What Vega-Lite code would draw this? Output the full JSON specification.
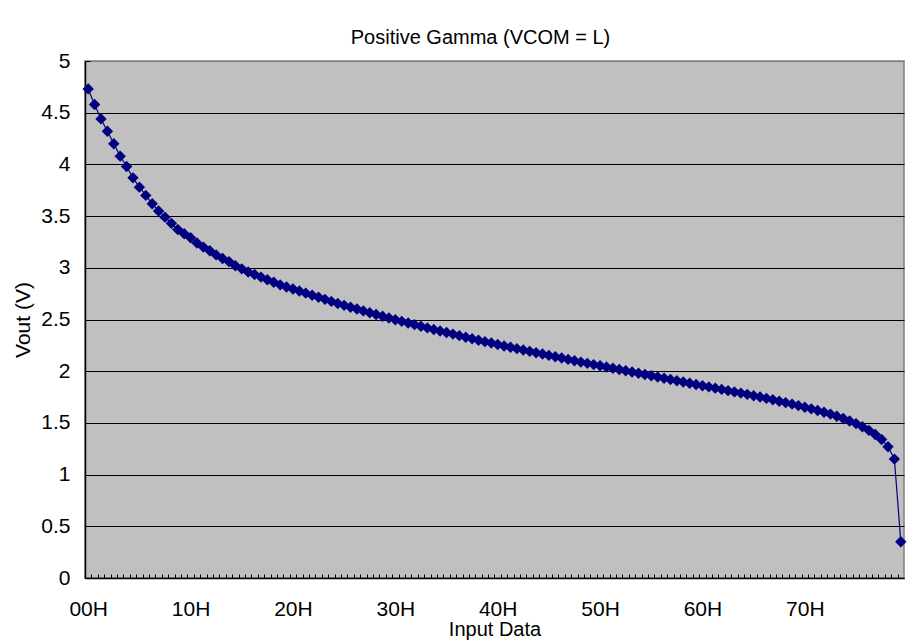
{
  "$schema": "https://vega.github.io/schema/vega-lite/v6.json",
  "width": 819,
  "height": 517,
  "autosize": {"type": "none"},
  "padding": {"left": 85, "top": 61, "right": 10, "bottom": 65},
  "background": "white",
  "title": {
    "text": "Positive Gamma (VCOM = L)",
    "font": "Liberation Sans",
    "fontSize": 20,
    "fontWeight": "normal",
    "color": "black",
    "anchor": "middle",
    "baseline": "alphabetic",
    "offset": -14,
    "dx": -14
  },
  "config": {
    "view": {"fill": "#C0C0C0", "stroke": "#808080", "strokeWidth": 1.5},
    "axis": {"labelFont": "Liberation Sans", "titleFont": "Liberation Sans", "labelColor": "black", "titleColor": "black", "titleFontWeight": "normal"}
  },
  "data": {
    "values": [
      {"code": "00H", "vout": 4.73}, {"code": "01H", "vout": 4.58}, {"code": "02H", "vout": 4.44}, {"code": "03H", "vout": 4.32},
      {"code": "04H", "vout": 4.20}, {"code": "05H", "vout": 4.08}, {"code": "06H", "vout": 3.98}, {"code": "07H", "vout": 3.87},
      {"code": "08H", "vout": 3.78}, {"code": "09H", "vout": 3.70}, {"code": "0AH", "vout": 3.62}, {"code": "0BH", "vout": 3.55},
      {"code": "0CH", "vout": 3.49}, {"code": "0DH", "vout": 3.43}, {"code": "0EH", "vout": 3.37}, {"code": "0FH", "vout": 3.33},
      {"code": "10H", "vout": 3.29}, {"code": "11H", "vout": 3.24}, {"code": "12H", "vout": 3.20}, {"code": "13H", "vout": 3.165},
      {"code": "14H", "vout": 3.125}, {"code": "15H", "vout": 3.09}, {"code": "16H", "vout": 3.06}, {"code": "17H", "vout": 3.02},
      {"code": "18H", "vout": 2.99}, {"code": "19H", "vout": 2.96}, {"code": "1AH", "vout": 2.935}, {"code": "1BH", "vout": 2.91},
      {"code": "1CH", "vout": 2.885}, {"code": "1DH", "vout": 2.86}, {"code": "1EH", "vout": 2.835}, {"code": "1FH", "vout": 2.815},
      {"code": "20H", "vout": 2.795}, {"code": "21H", "vout": 2.775}, {"code": "22H", "vout": 2.755}, {"code": "23H", "vout": 2.735},
      {"code": "24H", "vout": 2.715}, {"code": "25H", "vout": 2.695}, {"code": "26H", "vout": 2.675}, {"code": "27H", "vout": 2.655},
      {"code": "28H", "vout": 2.637}, {"code": "29H", "vout": 2.619}, {"code": "2AH", "vout": 2.601}, {"code": "2BH", "vout": 2.583},
      {"code": "2CH", "vout": 2.566}, {"code": "2DH", "vout": 2.549}, {"code": "2EH", "vout": 2.532}, {"code": "2FH", "vout": 2.515},
      {"code": "30H", "vout": 2.498}, {"code": "31H", "vout": 2.482}, {"code": "32H", "vout": 2.466}, {"code": "33H", "vout": 2.45},
      {"code": "34H", "vout": 2.434}, {"code": "35H", "vout": 2.419}, {"code": "36H", "vout": 2.404}, {"code": "37H", "vout": 2.389},
      {"code": "38H", "vout": 2.374}, {"code": "39H", "vout": 2.359}, {"code": "3AH", "vout": 2.344}, {"code": "3BH", "vout": 2.329},
      {"code": "3CH", "vout": 2.314}, {"code": "3DH", "vout": 2.30}, {"code": "3EH", "vout": 2.286}, {"code": "3FH", "vout": 2.272},
      {"code": "40H", "vout": 2.258}, {"code": "41H", "vout": 2.244}, {"code": "42H", "vout": 2.231}, {"code": "43H", "vout": 2.218},
      {"code": "44H", "vout": 2.205}, {"code": "45H", "vout": 2.192}, {"code": "46H", "vout": 2.179}, {"code": "47H", "vout": 2.166},
      {"code": "48H", "vout": 2.153}, {"code": "49H", "vout": 2.14}, {"code": "4AH", "vout": 2.127}, {"code": "4BH", "vout": 2.114},
      {"code": "4CH", "vout": 2.101}, {"code": "4DH", "vout": 2.088}, {"code": "4EH", "vout": 2.076}, {"code": "4FH", "vout": 2.064},
      {"code": "50H", "vout": 2.052}, {"code": "51H", "vout": 2.04}, {"code": "52H", "vout": 2.028}, {"code": "53H", "vout": 2.016},
      {"code": "54H", "vout": 2.004}, {"code": "55H", "vout": 1.992}, {"code": "56H", "vout": 1.98}, {"code": "57H", "vout": 1.968},
      {"code": "58H", "vout": 1.956}, {"code": "59H", "vout": 1.944}, {"code": "5AH", "vout": 1.932}, {"code": "5BH", "vout": 1.92},
      {"code": "5CH", "vout": 1.908}, {"code": "5DH", "vout": 1.896}, {"code": "5EH", "vout": 1.884}, {"code": "5FH", "vout": 1.872},
      {"code": "60H", "vout": 1.86}, {"code": "61H", "vout": 1.848}, {"code": "62H", "vout": 1.836}, {"code": "63H", "vout": 1.824},
      {"code": "64H", "vout": 1.812}, {"code": "65H", "vout": 1.80}, {"code": "66H", "vout": 1.788}, {"code": "67H", "vout": 1.776},
      {"code": "68H", "vout": 1.763}, {"code": "69H", "vout": 1.75}, {"code": "6AH", "vout": 1.737}, {"code": "6BH", "vout": 1.724},
      {"code": "6CH", "vout": 1.71}, {"code": "6DH", "vout": 1.696}, {"code": "6EH", "vout": 1.682}, {"code": "6FH", "vout": 1.667},
      {"code": "70H", "vout": 1.652}, {"code": "71H", "vout": 1.636}, {"code": "72H", "vout": 1.62}, {"code": "73H", "vout": 1.603},
      {"code": "74H", "vout": 1.585}, {"code": "75H", "vout": 1.565}, {"code": "76H", "vout": 1.543}, {"code": "77H", "vout": 1.519},
      {"code": "78H", "vout": 1.493}, {"code": "79H", "vout": 1.463}, {"code": "7AH", "vout": 1.428}, {"code": "7BH", "vout": 1.388},
      {"code": "7CH", "vout": 1.34}, {"code": "7DH", "vout": 1.27}, {"code": "7EH", "vout": 1.15}, {"code": "7FH", "vout": 0.35}
    ]
  },
  "encoding": {
    "x": {
      "field": "code",
      "type": "ordinal",
      "sort": null,
      "scale": {"type": "point", "padding": 0.5},
      "axis": {
        "title": "Input Data",
        "titleFontSize": 20,
        "titlePadding": 0,
        "labelFontSize": 21,
        "labelAngle": 0,
        "labelBaseline": "alphabetic",
        "labelPadding": 41,
        "labelOverlap": false,
        "labelExpr": "slice(datum.value, 1, 2) == '0' ? datum.value : ''",
        "tickOffset": -3.2,
        "labelOffset": 3.2,
        "tickSize": -4,
        "tickColor": "black",
        "domainColor": "black",
        "domainWidth": 1.5,
        "grid": false
      }
    },
    "y": {
      "field": "vout",
      "type": "quantitative",
      "scale": {"domain": [0, 5], "nice": false},
      "axis": {
        "title": "Vout (V)",
        "titleFontSize": 21,
        "titlePadding": 7,
        "values": [0, 0.5, 1, 1.5, 2, 2.5, 3, 3.5, 4, 4.5, 5],
        "format": "~g",
        "labelFontSize": 21,
        "labelPadding": 20,
        "tickSize": -5,
        "tickColor": "black",
        "domainColor": "black",
        "domainWidth": 1.5,
        "grid": true,
        "gridColor": {"condition": {"test": "datum.value == 5", "value": "#808080"}, "value": "black"},
        "gridOpacity": 1,
        "gridWidth": 1
      }
    }
  },
  "layer": [
    {"mark": {"type": "line", "color": "#000080", "strokeWidth": 1.2}},
    {"mark": {"type": "point", "shape": "diamond", "filled": true, "color": "#000080", "opacity": 1, "size": 130}}
  ]
}
